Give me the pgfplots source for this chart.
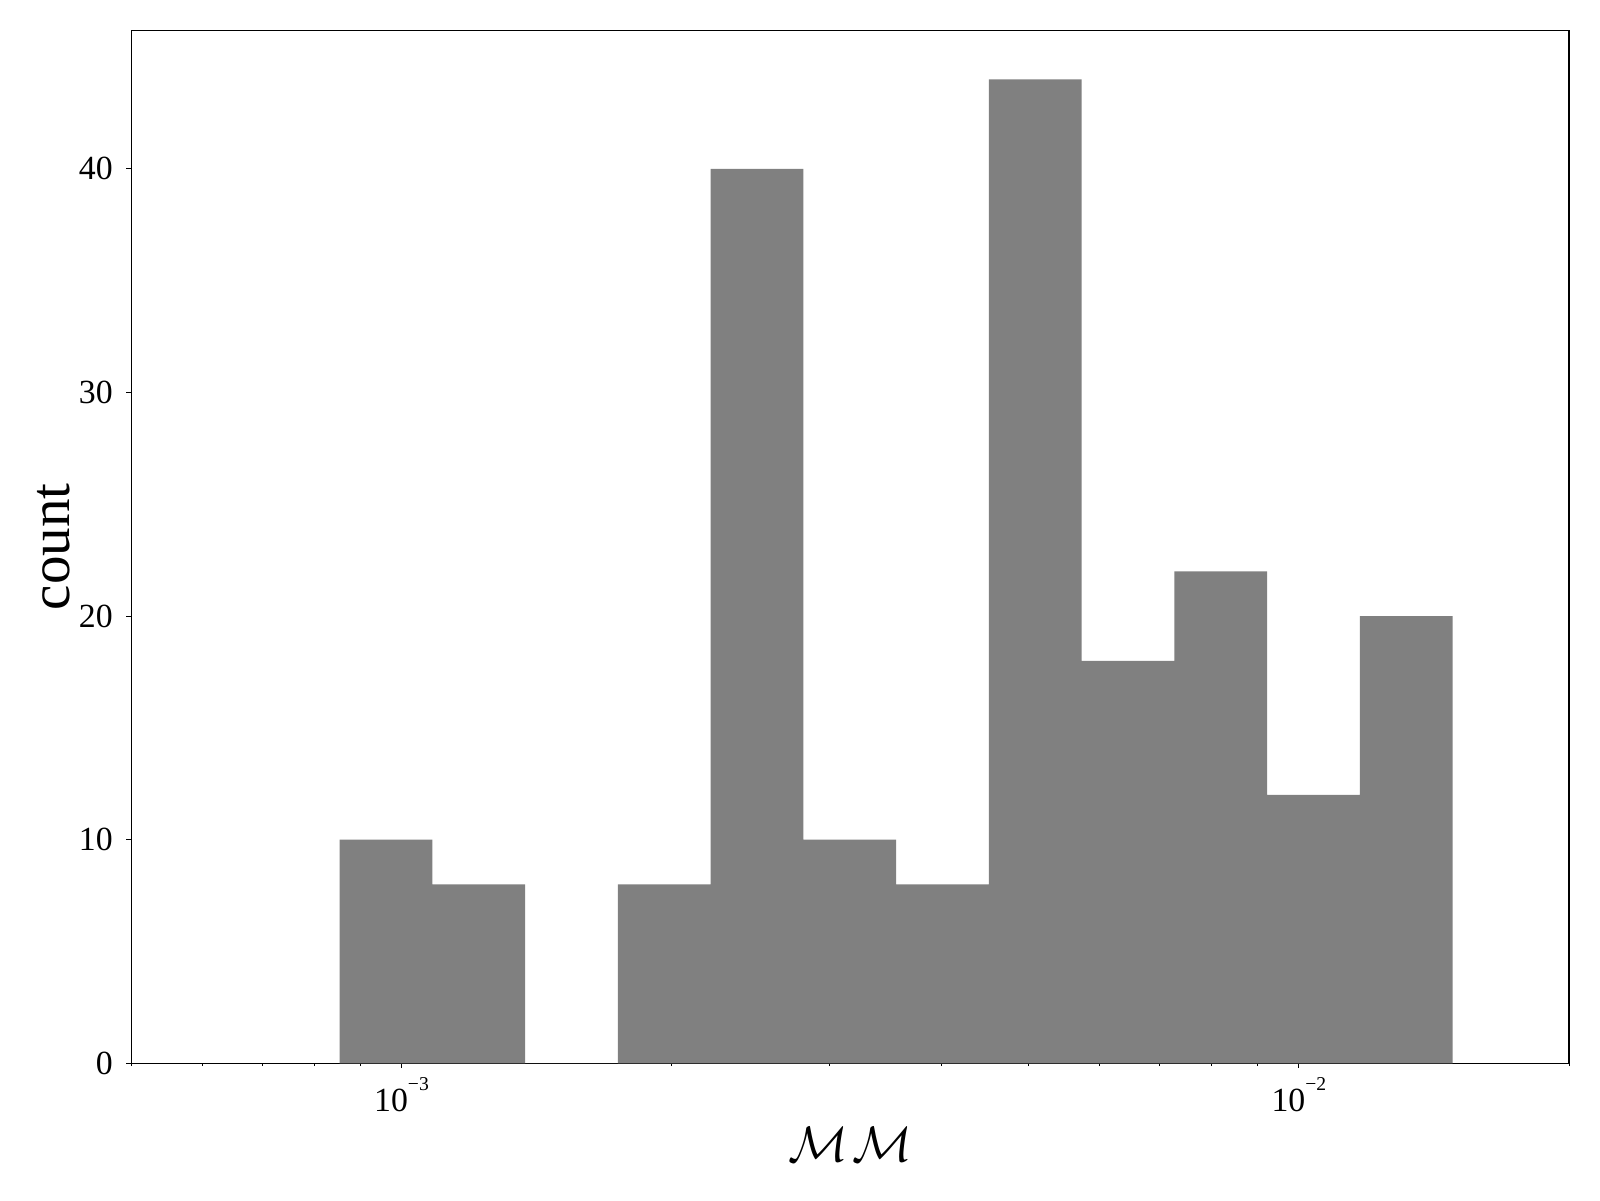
\documentclass[border=0pt]{standalone}
\usepackage{fontspec}
\setmainfont{Liberation Serif}
\usepackage{pgfplots}
\pgfplotsset{compat=1.18}
\newcommand{\tenexp}[1]{10\raisebox{0.62em}{\fontsize{9.8pt}{10pt}\selectfont −#1}}
\begin{document}
\begin{tikzpicture}
\useasboundingbox (-65.7pt,-68.35pt) rectangle (734.3pt,531.65pt);
\begin{axis}[
  at={(0,0)}, anchor=south west,
  scale only axis, width=718.8pt, height=516.5pt,
  xmode=log, xmin=5e-4, xmax=2e-2,
  ymin=0, ymax=46.2,
  axis line style={line width=0.56pt},
  xtick={1e-3,1e-2},
  xticklabels={\tenexp{3},\tenexp{2}},
  minor xtick={5e-4,6e-4,7e-4,8e-4,9e-4,2e-3,3e-3,4e-3,5e-3,6e-3,7e-3,8e-3,9e-3,2e-2},
  ytick={0,10,20,30,40},
  xtick pos=bottom, ytick pos=left,
  tick align=outside,
  major tick length=2.45pt, minor tick length=1.4pt,
  every tick/.style={black, line width=0.56pt},
  every minor tick/.style={black, line width=0.42pt},
  /pgf/number format/assume math mode=true,
  ticklabel style={font=\fontsize{16.9pt}{20pt}\selectfont, inner sep=0pt},
  yticklabel style={anchor=east, xshift=-6.7pt},
  xticklabel style={anchor=base, yshift=-21.7pt},
  xlabel={$\mathcal{M}\mkern1.5mu\mathcal{M}$},
  ylabel={count},
  label style={font=\fontsize{28.5pt}{33pt}\selectfont},
  xlabel style={at={(axis description cs:0.5,-0.09458)}, anchor=base, inner sep=0pt},
  ylabel style={at={(axis description cs:-0.04271,0.5)}, anchor=base, inner sep=0pt},
]
\addplot[ybar interval, fill=gray, draw=none] coordinates {
(8.531e-4,10) (1.0823e-3,8) (1.3730e-3,0) (1.7421e-3,8) (2.2102e-3,40) (2.8041e-3,10) (3.5577e-3,8) (4.5136e-3,44) (5.7264e-3,18) (7.2650e-3,22) (9.2176e-3,12) (1.1694e-2,20) (1.4836e-2,20)
};
\end{axis}
\end{tikzpicture}
\end{document}
